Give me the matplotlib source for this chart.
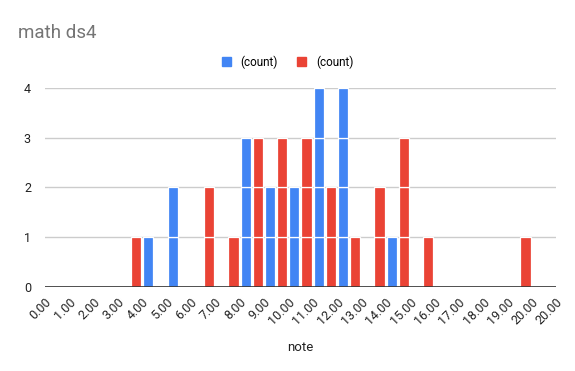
import numpy as np
import matplotlib.pyplot as plt

plt.rcParams['font.family'] = ['Roboto', 'DejaVu Sans']

# histogram bins (one per tick interval) and counts per series
tick_labels = ["0.00", "1.00", "2.00", "3.00", "4.00", "5.00", "6.00", "7.00", "8.00", "9.00",
               "10.00", "11.00", "12.00", "13.00", "14.00", "15.00", "16.00", "17.00", "18.00",
               "19.00", "20.00", "20.00"]
blue_counts = [0, 0, 0, 0, 1, 2, 0, 0, 3, 2, 2, 4, 4, 0, 1, 0, 0, 0, 0, 0, 0]
red_counts = [0, 0, 0, 1, 0, 0, 2, 1, 3, 3, 3, 2, 1, 2, 3, 1, 0, 0, 0, 1, 0]
series_names = ["(count)", "(count)"]

BLUE = "#4285F4"
RED = "#EA4335"

fig = plt.figure(figsize=(5.75, 3.71), dpi=100)
ax = fig.add_axes([0.078, 0.2264, 0.889, 0.537])

bins = np.arange(len(blue_counts))
bw = 0.42
for counts, off, color in [(blue_counts, 0.25, BLUE), (red_counts, 0.75, RED)]:
    for b, c in zip(bins, counts):
        for k in range(c):
            ax.bar(b + off, 1, bottom=k, width=bw, color=color,
                   edgecolor="white", linewidth=0.9, zorder=3)

ax.set_xlim(0, len(tick_labels) - 1)
ax.set_ylim(0, 4)
ax.set_yticks([0, 1, 2, 3, 4])
ax.grid(axis="y", color="#cccccc", linewidth=1, zorder=0)
ax.axhline(0, color="#333333", linewidth=1.2, zorder=4)
for s in ax.spines.values():
    s.set_visible(False)

ax.set_xticks(np.arange(len(tick_labels)))
ax.set_xticklabels(tick_labels, rotation=45, ha="right", va="top",
                   rotation_mode="anchor", fontsize=9, color="#222222")
ax.tick_params(axis="x", length=0, pad=6)
ax.tick_params(axis="y", length=0, pad=10, labelsize=9, labelcolor="#222222")
ax.set_xlabel("note", fontsize=9.5, color="#222222", labelpad=10)

fig.text(0.031, 0.91, "math ds4", fontsize=13.5, color="#757575", va="center")

handles = [plt.Rectangle((0, 0), 1, 1, color=BLUE), plt.Rectangle((0, 0), 1, 1, color=RED)]
fig.legend(handles, series_names, loc="center", bbox_to_anchor=(0.5, 0.833), ncol=2,
           frameon=False, fontsize=8.5, handlelength=0.8, handleheight=0.8,
           handletextpad=0.8, columnspacing=1.6)

fig.savefig("out.png", dpi=100)
